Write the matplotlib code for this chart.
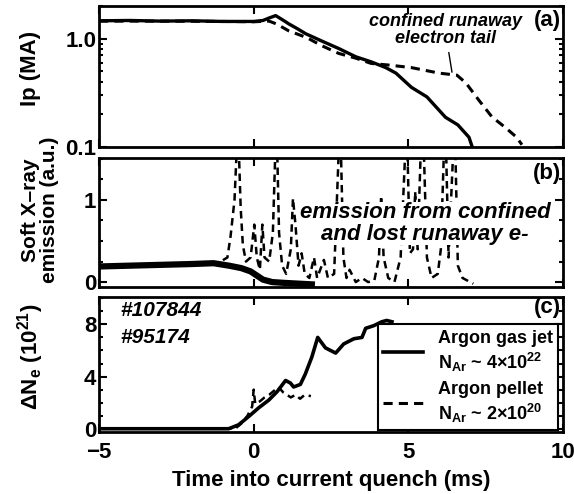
import numpy as np
import matplotlib
matplotlib.use('Agg')
import matplotlib.pyplot as plt
from matplotlib import font_manager
from matplotlib.lines import Line2D
from matplotlib.ticker import FixedLocator, MultipleLocator, NullFormatter

# ---- data ----
# (a) plasma current
t_ip_jet = [-5.0, -4.0, -3.0, -2.0, -1.0, 0.0, 0.3, 0.5, 0.71, 1.0, 1.13, 1.4, 1.68, 2.2,
            2.75, 3.3, 3.8, 4.27, 4.6, 5.1, 5.6, 6.2, 6.6, 6.96, 7.05]
ip_jet = [1.46, 1.47, 1.45, 1.46, 1.44, 1.44, 1.47, 1.55, 1.63, 1.45, 1.37, 1.24, 1.11, 0.95,
          0.81, 0.68, 0.61, 0.54, 0.48, 0.355, 0.29, 0.188, 0.16, 0.123, 0.103]
t_ip_pel = [-5.0, -3.0, -1.0, 0.0, 0.5, 0.75, 1.13, 1.72, 2.2, 2.75, 3.3, 3.8, 4.37, 5.1,
            6.0, 6.57, 6.86, 7.28, 7.7, 8.15, 8.5, 8.67]
ip_pel = [1.45, 1.45, 1.44, 1.43, 1.45, 1.36, 1.18, 1.02, 0.86, 0.73, 0.66, 0.59, 0.57, 0.54,
          0.48, 0.46, 0.39, 0.27, 0.19, 0.15, 0.123, 0.105]

# (b) soft x-ray emission
t_sxr_jet = [-5.0, -4.0, -3.0, -2.0, -1.3, -0.8, -0.4, -0.1, 0.1, 0.3, 0.6, 1.0, 1.5, 1.98]
sxr_jet = [0.19, 0.2, 0.21, 0.22, 0.23, 0.2, 0.17, 0.13, 0.08, 0.03, 0.0, -0.01, -0.02, -0.03]
t_sxr_pel = [-5.0, -3.0, -1.2, -0.85, -0.75, -0.62, -0.55, -0.48, -0.42, -0.35, -0.25, -0.1,
             0.02, 0.1, 0.2, 0.28, 0.35, 0.5, 0.62, 0.7, 0.76, 0.82, 0.92, 1.05, 1.2, 1.27,
             1.35, 1.45, 1.55, 1.65, 1.8, 1.95, 2.05, 2.27, 2.4, 2.6, 2.75, 2.82, 2.9, 3.0,
             3.1, 3.3, 3.5, 3.7, 3.9, 4.05, 4.12, 4.2, 4.35, 4.55, 4.75, 4.9, 4.97, 5.05,
             5.15, 5.22, 5.3, 5.4, 5.5, 5.6, 5.75, 5.95, 6.05, 6.15, 6.22, 6.3, 6.45, 6.52,
             6.6, 6.75, 7.0, 7.1]
sxr_pel = [0.19, 0.2, 0.22, 0.3, 0.55, 1.0, 1.6, 1.6, 0.9, 0.45, 0.25, 0.3,
           0.7, 0.3, 0.15, 0.7, 0.3, 0.25, 0.6, 1.6, 1.6, 0.6, 0.2, 0.1, 0.4, 1.02,
           0.7, 0.2, 0.35, 0.1, 0.05, 0.3, 0.05, 0.27, 0.05, 0.1, 1.6, 1.6, 0.3, 0.05,
           0.15, 0.0, 0.05, 0.0, 0.02, 0.3, 1.05, 0.3, 0.05, 0.0, 0.3, 1.6, 1.6, 0.35,
           0.4, 1.1, 0.4, 1.6, 1.6, 0.3, 0.05, 0.1, 0.4, 1.6, 1.6, 0.3, 1.6, 1.6,
           0.2, 0.05, 0.0, -0.02]

# (c) electron inventory
t_ne_jet = [-5.0, -0.81, -0.49, -0.16, 0.16, 0.49, 0.76, 1.03, 1.19, 1.29, 1.51, 1.67, 1.88,
            2.07, 2.32, 2.65, 2.91, 3.24, 3.5, 3.62, 3.88, 4.14, 4.3, 4.47]
ne_jet = [0.0, 0.0, 0.3, 0.94, 1.6, 2.2, 2.85, 3.7, 3.5, 3.2, 3.4, 4.2, 5.5,
          7.0, 6.2, 5.8, 6.5, 6.9, 7.0, 7.7, 7.9, 8.2, 8.3, 8.2]
t_ne_pel = [-5.0, -0.6, -0.4, -0.2, -0.05, 0.0, 0.05, 0.2, 0.35, 0.5, 0.65, 0.8, 0.95, 1.2,
            1.35, 1.5, 1.65, 1.85]
ne_pel = [0.0, 0.0, 0.4, 1.0, 1.7, 3.0, 1.9, 2.1, 2.4, 2.6, 2.9, 3.2, 2.8, 2.4,
          2.6, 2.3, 2.6, 2.5]

x_ticks = [-5, 0, 5, 10]

# ---- fonts ----
available = {f.name for f in font_manager.fontManager.ttflist}
fam = [f for f in ['Liberation Sans Narrow', 'Liberation Sans', 'DejaVu Sans'] if f in available]
plt.rcParams['font.family'] = fam
plt.rcParams['font.weight'] = 'bold'
plt.rcParams['axes.labelweight'] = 'bold'
plt.rcParams['mathtext.default'] = 'regular'

fig = plt.figure(figsize=(5.74, 4.94), dpi=100)
left, width = 0.1725, 0.8084
ax_a = fig.add_axes([left, 0.7024, width, 0.2855])
ax_b = fig.add_axes([left, 0.419, width, 0.261])
ax_c = fig.add_axes([left, 0.1255, width, 0.2733])

dash = (3, 2)

def style(ax):
    for s in ax.spines.values():
        s.set_linewidth(2)
    ax.set_xlim(-5, 10)
    ax.xaxis.set_major_locator(FixedLocator(x_ticks))
    ax.tick_params(which='both', direction='in', top=True, right=True, width=1.5)
    ax.tick_params(which='major', length=6, labelsize=16, pad=2)
    ax.tick_params(which='minor', length=3)

# (a)
ax_a.semilogy(t_ip_jet, ip_jet, color='black', lw=2.4)
ax_a.semilogy(t_ip_pel, ip_pel, color='black', lw=2.2, dashes=dash)
style(ax_a)
ax_a.set_ylim(0.1, 2.0)
ax_a.yaxis.set_major_locator(FixedLocator([0.1, 1.0]))
ax_a.yaxis.set_minor_locator(FixedLocator([0.2, 0.3, 0.4, 0.5, 0.6, 0.7, 0.8, 0.9, 2.0]))
ax_a.yaxis.set_minor_formatter(NullFormatter())
ax_a.set_yticklabels(['0.1', '1.0'])
ax_a.tick_params(axis='x', labelbottom=False)
fig.text(0.0523, 0.8623, 'Ip (MA)', rotation=90, ha='center', va='center', fontsize=16)
ax_a.text(0.995, 0.97, '(a)', transform=ax_a.transAxes, ha='right', va='top', fontsize=16)
ax_a.annotate('confined runaway\nelectron tail', xy=(6.41, 0.49), xycoords='data',
              xytext=(0.746, 0.83), textcoords='axes fraction', ha='center', va='center',
              fontsize=13, style='italic', linespacing=1.0,
              arrowprops=dict(arrowstyle='-', lw=1, color='black', shrinkA=2, shrinkB=0))

# (b)
ax_b.plot(t_sxr_jet, sxr_jet, color='black', lw=4.5, solid_capstyle='butt')
ax_b.plot(t_sxr_pel, sxr_pel, color='black', lw=1.8, dashes=dash)
style(ax_b)
ax_b.set_ylim(-0.06, 1.51)
ax_b.yaxis.set_major_locator(FixedLocator([0, 1]))
ax_b.yaxis.set_minor_locator(MultipleLocator(0.25))
ax_b.tick_params(axis='x', labelbottom=False)
fig.text(0.0697, 0.5749, 'Soft X\u2013ray\nemission (a.u.)', rotation=90, ha='center',
         va='center', fontsize=15, linespacing=1.0, multialignment='center')
ax_b.text(0.995, 0.96, '(b)', transform=ax_b.transAxes, ha='right', va='top', fontsize=16)
ax_b.text(0.703, 0.492, 'emission from confined\nand lost runaway e-', transform=ax_b.transAxes,
          ha='center', va='center', fontsize=16, style='italic', linespacing=1.05,
          bbox=dict(facecolor='white', edgecolor='none', pad=0))

# (c)
ax_c.plot(t_ne_jet, ne_jet, color='black', lw=2.6)
ax_c.plot(t_ne_pel, ne_pel, color='black', lw=1.8, dashes=dash)
style(ax_c)
ax_c.tick_params(axis='x', which='major', pad=7)
ax_c.set_ylim(-0.25, 10.1)
ax_c.yaxis.set_major_locator(FixedLocator([0, 4, 8]))
ax_c.yaxis.set_minor_locator(MultipleLocator(1))
fig.text(0.054, 0.2773, '$\\Delta$N$_e$ (10$^{21}$)', rotation=90, ha='center', va='center',
         fontsize=16)
ax_c.set_xlabel('Time into current quench (ms)', fontsize=16, labelpad=5)
ax_c.text(0.995, 1.0, '(c)', transform=ax_c.transAxes, ha='right', va='top', fontsize=16)
ax_c.text(0.045, 0.9, '#107844', transform=ax_c.transAxes, ha='left', va='center',
          fontsize=15, style='italic')
ax_c.text(0.045, 0.70, '#95174', transform=ax_c.transAxes, ha='left', va='center',
          fontsize=15, style='italic')
handles = [Line2D([], [], color='black', lw=2.6),
           Line2D([], [], color='black', lw=2.2, dashes=dash)]
labels = ['Argon gas jet\nN$_{Ar}$ ~ 4$\\times$10$^{22}$',
          'Argon pellet\nN$_{Ar}$ ~ 2$\\times$10$^{20}$']
leg = ax_c.legend(handles, labels, loc='lower right', bbox_to_anchor=(0.989, 0.015),
                  borderaxespad=0, fontsize=13, frameon=True, fancybox=False,
                  handlelength=2.2, handletextpad=0.8, labelspacing=0.4,
                  borderpad=0.3)
leg.get_frame().set_edgecolor('black')
leg.get_frame().set_linewidth(1.5)
leg.get_frame().set_alpha(1)

fig.savefig('out.png', dpi=100)
